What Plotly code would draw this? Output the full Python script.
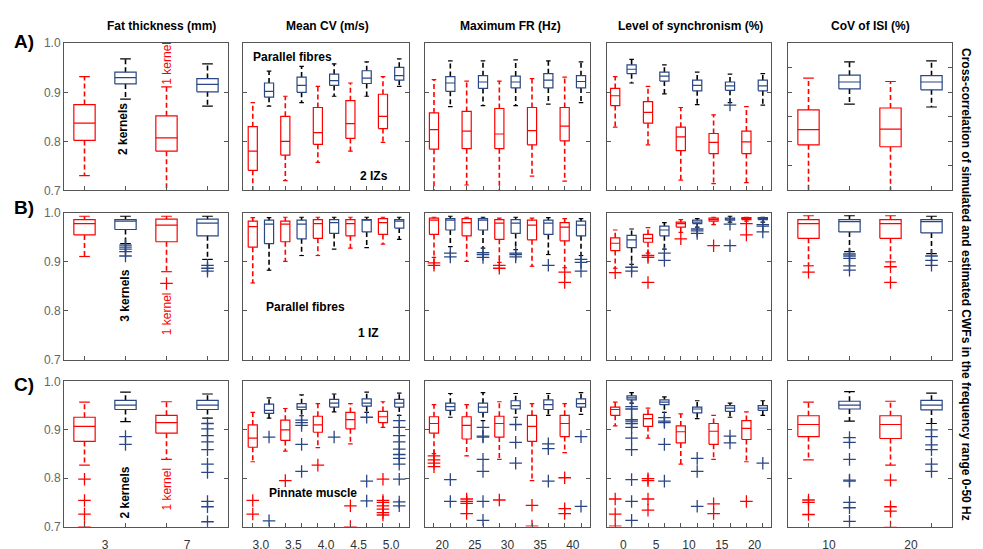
import plotly.graph_objects as go
from plotly.subplots import make_subplots

RED = "#ff0000"
NAVY = "#2a4683"
FONT = "Arial, Liberation Sans, sans-serif"

col_titles = ["Fat thickness (mm)", "Mean CV (m/s)", "Maximum FR (Hz)",
              "Level of synchronism (%)", "CoV of ISI (%)"]
col_ticks = [["3", "7"], ["3.0", "3.5", "4.0", "4.5", "5.0"], ["20", "25", "30", "35", "40"],
             ["0", "5", "10", "15", "20"], ["10", "20"]]
row_tags = ["A)", "B)", "C)"]

# each box: (lower whisker, q1, median, q3, upper whisker); boxes alternate red / blue
fat_a = [(0.730, 0.802, 0.837, 0.875, 0.932), (0.886, 0.917, 0.930, 0.941, 0.968),
         (0.620, 0.780, 0.807, 0.852, 0.911), (0.872, 0.901, 0.916, 0.928, 0.958)]
cv_a = [(0.660, 0.741, 0.780, 0.830, 0.879), (0.872, 0.890, 0.902, 0.919, 0.943),
        (0.720, 0.772, 0.800, 0.851, 0.892), (0.879, 0.900, 0.914, 0.931, 0.953),
        (0.757, 0.794, 0.818, 0.869, 0.912), (0.892, 0.914, 0.924, 0.937, 0.958),
        (0.780, 0.806, 0.836, 0.883, 0.919), (0.892, 0.918, 0.929, 0.944, 0.962),
        (0.798, 0.826, 0.851, 0.896, 0.932), (0.912, 0.925, 0.934, 0.951, 0.968)]
fr_a = [(0.660, 0.784, 0.824, 0.858, 0.926), (0.871, 0.902, 0.919, 0.932, 0.964),
        (0.711, 0.785, 0.821, 0.861, 0.923), (0.873, 0.908, 0.921, 0.934, 0.964),
        (0.699, 0.785, 0.815, 0.867, 0.923), (0.873, 0.909, 0.921, 0.933, 0.966),
        (0.729, 0.793, 0.822, 0.869, 0.928), (0.876, 0.909, 0.925, 0.938, 0.964),
        (0.719, 0.801, 0.831, 0.869, 0.931), (0.879, 0.909, 0.922, 0.934, 0.962)]
sync_a = [(0.829, 0.873, 0.893, 0.908, 0.932), (0.919, 0.938, 0.947, 0.956, 0.967),
          (0.793, 0.837, 0.859, 0.881, 0.912), (0.897, 0.923, 0.933, 0.941, 0.956),
          (0.721, 0.781, 0.809, 0.829, 0.869), (0.875, 0.903, 0.914, 0.925, 0.941),
          (0.714, 0.775, 0.798, 0.816, 0.854), (0.879, 0.904, 0.913, 0.921, 0.937),
          (0.716, 0.775, 0.799, 0.821, 0.871), (0.874, 0.903, 0.913, 0.925, 0.938)]
cov_a = [(0.620, 0.793, 0.824, 0.864, 0.929), (0.876, 0.907, 0.921, 0.935, 0.962),
         (0.620, 0.789, 0.825, 0.868, 0.922), (0.870, 0.905, 0.921, 0.934, 0.964)]

fat_b = [(0.911, 0.955, 0.978, 0.986, 0.993), (0.937, 0.966, 0.983, 0.986, 0.993),
         (0.880, 0.941, 0.975, 0.987, 0.993), (0.905, 0.953, 0.979, 0.987, 0.993)]
cv_b = [(0.857, 0.930, 0.972, 0.983, 0.990), (0.883, 0.937, 0.977, 0.985, 0.990),
        (0.901, 0.941, 0.977, 0.983, 0.991), (0.913, 0.947, 0.977, 0.985, 0.991),
        (0.913, 0.948, 0.978, 0.986, 0.991), (0.926, 0.958, 0.980, 0.986, 0.991),
        (0.928, 0.953, 0.978, 0.986, 0.991), (0.929, 0.961, 0.985, 0.986, 0.991),
        (0.936, 0.956, 0.980, 0.988, 0.991), (0.946, 0.969, 0.983, 0.986, 0.991)]
fr_b = [(0.909, 0.956, 0.985, 0.989, 0.991), (0.931, 0.965, 0.985, 0.988, 0.993),
        (0.901, 0.953, 0.980, 0.988, 0.991), (0.928, 0.965, 0.985, 0.988, 0.991),
        (0.899, 0.946, 0.979, 0.986, 0.989), (0.925, 0.958, 0.979, 0.986, 0.991),
        (0.891, 0.945, 0.975, 0.985, 0.989), (0.915, 0.956, 0.979, 0.985, 0.990),
        (0.888, 0.943, 0.971, 0.980, 0.988), (0.913, 0.953, 0.975, 0.983, 0.988)]
sync_b = [(0.887, 0.923, 0.938, 0.949, 0.965), (0.895, 0.929, 0.945, 0.954, 0.967),
          (0.918, 0.940, 0.948, 0.956, 0.970), (0.926, 0.953, 0.965, 0.973, 0.980),
          (0.960, 0.971, 0.978, 0.981, 0.986), (0.971, 0.978, 0.981, 0.985, 0.988),
          (0.976, 0.983, 0.986, 0.989, 0.991), (0.981, 0.985, 0.987, 0.989, 0.993),
          (0.983, 0.986, 0.988, 0.990, 0.991), (0.981, 0.986, 0.988, 0.990, 0.991)]
cov_b = [(0.892, 0.948, 0.978, 0.986, 0.994), (0.921, 0.961, 0.982, 0.986, 0.994),
         (0.900, 0.948, 0.978, 0.986, 0.994), (0.917, 0.959, 0.982, 0.986, 0.993)]

fat_c = [(0.827, 0.876, 0.907, 0.926, 0.957), (0.917, 0.942, 0.951, 0.961, 0.978),
         (0.839, 0.893, 0.915, 0.930, 0.958), (0.924, 0.942, 0.951, 0.961, 0.974)]
cv_c = [(0.834, 0.864, 0.883, 0.910, 0.936), (0.924, 0.934, 0.940, 0.953, 0.966),
        (0.856, 0.878, 0.900, 0.920, 0.944), (0.929, 0.942, 0.947, 0.954, 0.972),
        (0.863, 0.895, 0.910, 0.928, 0.954), (0.937, 0.947, 0.955, 0.963, 0.974),
        (0.871, 0.902, 0.921, 0.936, 0.954), (0.936, 0.949, 0.955, 0.964, 0.978),
        (0.905, 0.915, 0.927, 0.938, 0.958), (0.930, 0.947, 0.955, 0.963, 0.976)]
fr_c = [(0.851, 0.893, 0.913, 0.927, 0.952), (0.926, 0.940, 0.948, 0.955, 0.975),
        (0.846, 0.881, 0.909, 0.927, 0.952), (0.919, 0.936, 0.947, 0.955, 0.977),
        (0.839, 0.885, 0.913, 0.928, 0.958), (0.926, 0.943, 0.950, 0.960, 0.975),
        (0.795, 0.876, 0.907, 0.930, 0.954), (0.930, 0.942, 0.952, 0.962, 0.975),
        (0.853, 0.886, 0.913, 0.930, 0.954), (0.932, 0.947, 0.954, 0.964, 0.977)]
sync_c = [(0.908, 0.930, 0.942, 0.947, 0.957), (0.955, 0.962, 0.966, 0.970, 0.977),
          (0.883, 0.907, 0.923, 0.932, 0.945), (0.936, 0.952, 0.957, 0.962, 0.968),
          (0.829, 0.873, 0.896, 0.908, 0.933), (0.923, 0.935, 0.943, 0.947, 0.960),
          (0.839, 0.870, 0.897, 0.913, 0.930), (0.926, 0.938, 0.945, 0.950, 0.955),
          (0.834, 0.880, 0.903, 0.919, 0.937), (0.930, 0.940, 0.945, 0.950, 0.960)]
cov_c = [(0.838, 0.886, 0.911, 0.929, 0.957), (0.918, 0.943, 0.951, 0.959, 0.979),
         (0.827, 0.882, 0.911, 0.929, 0.959), (0.913, 0.941, 0.951, 0.961, 0.976)]

# outliers, one list per box
fat_b_out = [[], [0.934, 0.930, 0.926, 0.921, 0.912], [0.856], [0.893, 0.887, 0.881]]
fr_b_out = [[0.898, 0.893], [0.918, 0.910], [], [0.919, 0.915, 0.909], [0.893, 0.887],
            [0.918, 0.915, 0.910], [], [0.893], [0.879, 0.858], [0.905, 0.899, 0.881]]
sync_a_out = [[], [], [], [], [], [], [], [0.874], [], []]
sync_b_out = [[0.878], [0.889, 0.881], [0.913, 0.909, 0.858], [0.918, 0.903], [0.947],
              [0.967, 0.963, 0.958], [0.933], [0.977, 0.933], [0.978, 0.955], [0.976, 0.973, 0.961]]
cov_b_out = [[0.879], [0.916, 0.912, 0.907, 0.892, 0.883], [0.890, 0.858], [0.912, 0.903, 0.893]]
fat_c_out = [[0.798, 0.754, 0.726, 0.700], [0.886, 0.870], [],
             [0.913, 0.902, 0.888, 0.875, 0.859, 0.829, 0.812, 0.752, 0.741, 0.710]]
cv_c_out = [[0.754, 0.726], [0.885, 0.712], [0.795], [0.920, 0.915, 0.909, 0.870, 0.814], [0.827],
            [0.885], [0.743, 0.700], [0.926, 0.794, 0.753],
            [0.798, 0.754, 0.750, 0.743, 0.736, 0.729, 0.724],
            [0.919, 0.905, 0.888, 0.875, 0.860, 0.849, 0.841, 0.829, 0.798, 0.751, 0.743]]
fr_c_out = [[0.846, 0.838, 0.831, 0.824], [0.797, 0.752], [0.757, 0.752, 0.748, 0.727],
            [0.905, 0.887, 0.885, 0.839, 0.814, 0.752, 0.713], [0.755], [0.911, 0.874, 0.831],
            [0.744, 0.701], [0.871, 0.861, 0.794], [0.801, 0.737, 0.727], [0.886, 0.742]]
sync_c_out = [[0.757, 0.726, 0.701],
              [0.948, 0.943, 0.921, 0.918, 0.913, 0.905, 0.883, 0.859, 0.797, 0.752, 0.713],
              [0.799, 0.795, 0.757, 0.734], [0.925, 0.918, 0.915, 0.870, 0.794], [],
              [0.841, 0.814, 0.742], [0.747, 0.727], [0.887, 0.873], [0.752], [0.831]]
cov_c_out = [[0.755, 0.750, 0.725], [0.884, 0.874, 0.839, 0.796, 0.794, 0.750, 0.739, 0.711],
             [0.796, 0.741, 0.732, 0.699], [0.900, 0.886, 0.869, 0.859, 0.829, 0.814]]

grid = [[fat_a, cv_a, fr_a, sync_a, cov_a],
        [fat_b, cv_b, fr_b, sync_b, cov_b],
        [fat_c, cv_c, fr_c, sync_c, cov_c]]
grid_out = [[None, None, None, sync_a_out, None],
            [fat_b_out, None, fr_b_out, sync_b_out, cov_b_out],
            [fat_c_out, cv_c_out, fr_c_out, sync_c_out, cov_c_out]]

W, H = 983, 549
OFF = 8  # the page body margin shifts the figure by this many pixels
col_px = [(64, 228), (243, 409), (425, 590), (607, 771), (788, 952)]
row_px = [(37, 188), (211, 362), (384, 533)]
x_ranges = [[0.5, 4.5], [0.4, 10.6], [0.45, 10.55], [0.5, 10.5], [0.5, 4.5]]


def px_x(v):
    return (v - OFF) / W


def px_y(v):
    return 1 - (v - OFF) / H


fig = make_subplots(rows=3, cols=5)


def add_panel(boxes, outliers, r, c):
    half = 0.26 if len(boxes) == 4 else 0.28
    for k, color, wcolor in [(0, RED, RED), (1, NAVY, "black")]:
        bx, by, wx, wy, cx, cy, ox, oy = [], [], [], [], [], [], [], []
        for i in range(k, len(boxes), 2):
            lo, q1, med, q3, hi = boxes[i]
            p = i + 1
            bx += [p - half, p + half, p + half, p - half, p - half, None, p - half, p + half, None]
            by += [q1, q1, q3, q3, q1, None, med, med, None]
            wx += [p, p, None, p, p, None]
            wy += [q3, hi, None, q1, lo, None]
            cx += [p - half / 2, p + half / 2, None, p - half / 2, p + half / 2, None]
            cy += [hi, hi, None, lo, lo, None]
            if outliers:
                ox += [p] * len(outliers[i])
                oy += outliers[i]
        fig.add_trace(go.Scatter(x=wx, y=wy, mode="lines", showlegend=False,
                                 line=dict(color=wcolor, width=1.6, dash="5px,3px")), row=r, col=c)
        fig.add_trace(go.Scatter(x=cx, y=cy, mode="lines", showlegend=False,
                                 line=dict(color=wcolor, width=1.2)), row=r, col=c)
        fig.add_trace(go.Scatter(x=bx, y=by, mode="lines", showlegend=False,
                                 line=dict(color=color, width=1.2)), row=r, col=c)
        if ox:
            fig.add_trace(go.Scatter(x=ox, y=oy, mode="markers", showlegend=False,
                                     marker=dict(symbol="cross-thin", size=9,
                                                 line=dict(color=color, width=1.3))),
                          row=r, col=c)


for r in range(3):
    for c in range(5):
        boxes = grid[r][c]
        add_panel(boxes, grid_out[r][c], r + 1, c + 1)
        n = len(boxes)
        mids = [i + 1.5 for i in range(0, n, 2)]
        x0, x1 = col_px[c]
        y0, y1 = row_px[r]
        fig.update_xaxes(domain=[px_x(x0), px_x(x1)], range=x_ranges[c],
                         tickmode="array", tickvals=mids, ticktext=col_ticks[c], ticks="",
                         ticklabelstandoff=7,
                         minor=dict(tickmode="array", tickvals=list(range(1, n + 1)),
                                    ticks="inside", ticklen=4, tickcolor="#555", showgrid=False),
                         showticklabels=(r == 2), tickfont=dict(size=12, color="#333"),
                         showline=True, mirror=True, linecolor="#555", linewidth=1,
                         showgrid=False, zeroline=False, row=r + 1, col=c + 1)
        yt = [0.75, 0.8, 0.85, 0.9, 0.95] if (r, c) == (0, 4) else [0.7, 0.8, 0.9, 1.0]
        fig.update_yaxes(domain=[px_y(y1), px_y(y0)], range=[0.7, 1.0],
                         tickmode="array", tickvals=yt, tickformat=".1f",
                         ticks="inside", ticklen=4, tickcolor="#555",
                         showticklabels=(c == 0), tickfont=dict(size=12, color="#666"),
                         showline=True, mirror="ticks", linecolor="#555", linewidth=1,
                         showgrid=False, zeroline=False, row=r + 1, col=c + 1)

notes = []
for c, t in enumerate(col_titles):
    cx = [161, 327, 510, 690, 870][c]
    notes.append(dict(text="<b>%s</b>" % t, x=px_x(cx), y=px_y(19), font=dict(size=12)))
for r, t in enumerate(row_tags):
    notes.append(dict(text="<b>%s</b>" % t, x=px_x(24), y=px_y([35, 206, 387][r]), font=dict(size=19)))
notes.append(dict(text="<b>Cross-correlation of simulated and estimated CWFs in the frequency range 0-50 Hz</b>",
                  x=px_x(966), y=px_y(284), textangle=90, font=dict(size=12)))
# in-panel labels: (text, x px, y px, angle, colour, bold)
labels = [("2 kernels", 123, 125, -90, "black", True), ("1 kernel", 167, 58, -90, RED, False),
          ("Parallel fibres", 292, 51, 0, "black", True), ("2 IZs", 374, 173, 0, "black", True),
          ("3 kernels", 125, 296, -90, "black", True), ("1 kernel", 167, 315, -90, RED, False),
          ("Parallel fibres", 305, 308, 0, "black", True), ("1 IZ", 368, 334, 0, "black", True),
          ("2 kernels", 125, 498, -90, "black", True), ("1 kernel", 167, 495, -90, RED, False),
          ("Pinnate muscle", 313, 499, 0, "black", True)]
for t, px, py, ang, col, bold in labels:
    notes.append(dict(text="<b>%s</b>" % t if bold else t, x=px_x(px), y=px_y(py),
                      textangle=ang, font=dict(size=12, color=col)))
for a in notes:
    a.update(xref="paper", yref="paper", showarrow=False, xanchor="center", yanchor="middle")

fig.update_layout(width=W, height=H, margin=dict(l=0, r=0, t=0, b=0),
                  plot_bgcolor="white", paper_bgcolor="white",
                  font=dict(family=FONT, color="black"), annotations=notes)

fig.write_html("out.html")
